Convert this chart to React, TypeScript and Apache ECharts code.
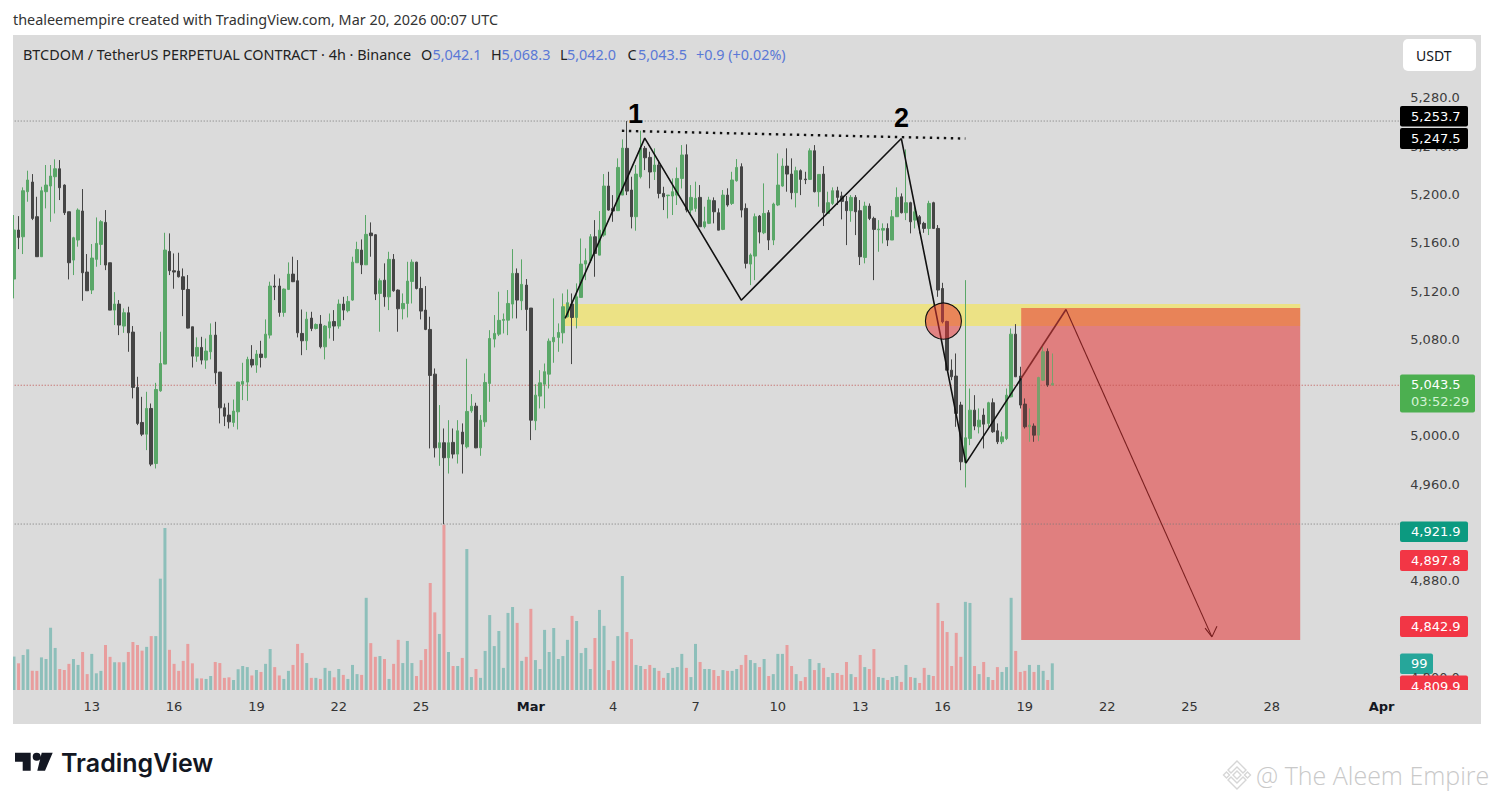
import React, { useEffect, useRef } from "react";
import * as echarts from "echarts";

// open, close, low, high of each 4h candle
const candles: number[][] = [
[5129.9,5170.5,5113.9,5182.9],[5170.5,5164.4,5154.7,5182.0],[5164.9,5203.0,5150.6,5205.8],[5202.2,5211.9,5193.9,5219.6],
[5210.2,5180.1,5178.7,5216.8],[5181.5,5148.4,5148.4,5198.0],[5148.4,5203.0,5148.4,5206.3],[5202.2,5207.7,5188.4,5224.3],
[5206.9,5215.2,5177.3,5224.3],[5214.6,5221.2,5184.2,5229.0],[5221.2,5205.5,5195.3,5228.4],[5207.7,5184.8,5182.9,5208.3],
[5185.6,5143.4,5129.6,5185.6],[5145.6,5164.1,5133.2,5164.9],[5162.2,5187.0,5156.7,5188.4],[5186.2,5135.1,5111.9,5204.4],
[5135.7,5120.2,5120.2,5150.6],[5120.8,5147.3,5117.5,5158.9],[5146.2,5159.4,5140.1,5180.9],[5158.6,5177.4,5141.5,5178.7],
[5176.8,5141.5,5137.3,5187.0],[5143.4,5104.2,5104.2,5143.4],[5104.2,5109.2,5091.8,5119.1],[5109.2,5091.8,5083.5,5112.5],
[5091.0,5102.0,5085.4,5105.6],[5102.0,5085.4,5069.7,5107.0],[5086.0,5040.2,5031.1,5091.0],[5040.2,5010.4,5009.0,5049.0],
[5011.2,5001.5,4999.9,5032.4],[5001.5,5022.8,4988.3,5036.6],[5022.8,4976.7,4975.0,5026.9],[4977.2,5038.5,4973.1,5044.0],
[5037.4,5060.0,5036.6,5086.3],[5059.5,5153.9,5059.5,5168.2],[5152.8,5136.8,5133.2,5167.7],[5136.8,5135.7,5121.9,5151.1],
[5136.5,5131.8,5131.2,5151.7],[5131.8,5121.3,5099.2,5138.7],[5121.3,5089.3,5089.0,5133.2],[5090.4,5066.1,5056.7,5090.4],
[5066.1,5073.3,5061.4,5081.6],[5073.3,5062.8,5059.2,5082.1],[5062.8,5070.3,5055.6,5080.7],[5069.7,5083.5,5063.4,5093.2],
[5083.5,5052.3,5042.9,5094.5],[5052.9,5023.3,5010.4,5052.9],[5023.3,5016.4,5008.2,5026.9],[5017.3,5011.7,5006.2,5027.5],
[5011.2,5020.6,5007.6,5030.2],[5020.0,5044.6,5005.4,5044.9],[5042.9,5045.1,5029.7,5060.6],[5044.6,5063.4,5029.1,5065.6],
[5063.4,5058.7,5056.7,5075.2],[5058.7,5067.8,5052.3,5071.1],[5067.8,5065.0,5056.7,5078.8],[5065.0,5084.3,5064.2,5096.5],
[5083.5,5124.1,5080.7,5127.7],[5124.1,5123.3,5112.5,5133.7],[5124.1,5102.3,5098.7,5130.4],[5102.3,5121.6,5098.7,5122.1],
[5121.3,5134.0,5120.8,5143.7],[5134.0,5127.7,5127.4,5148.4],[5128.5,5085.4,5081.6,5145.6],[5084.9,5078.8,5066.9,5104.7],
[5078.8,5096.7,5071.1,5102.8],[5097.6,5089.0,5086.8,5102.8],[5089.0,5092.3,5088.2,5093.2],[5092.6,5073.8,5072.5,5100.1],
[5073.8,5091.0,5063.4,5091.8],[5089.6,5094.5,5080.7,5101.4],[5094.8,5091.0,5078.8,5104.2],[5091.0,5109.2,5088.8,5113.0],
[5109.2,5104.2,5095.9,5115.2],[5103.7,5111.4,5102.3,5115.8],[5112.5,5143.9,5111.9,5148.4],[5143.4,5154.4,5143.4,5160.8],
[5153.9,5141.7,5134.0,5162.7],[5141.7,5166.9,5141.5,5182.9],[5168.0,5165.8,5148.4,5176.8],[5166.6,5117.5,5112.5,5167.1],
[5118.0,5128.5,5086.3,5130.4],[5129.0,5115.2,5107.0,5142.9],[5115.2,5146.2,5104.2,5152.5],[5146.2,5120.2,5119.4,5150.6],
[5120.8,5105.3,5086.3,5121.3],[5105.3,5109.7,5096.5,5118.0],[5109.7,5128.2,5098.1,5144.2],[5127.9,5143.9,5109.7,5146.2],
[5143.9,5122.1,5121.3,5144.2],[5122.1,5103.4,5096.5,5131.8],[5104.2,5088.2,5087.6,5124.1],[5088.2,5050.1,4989.7,5098.7],
[5051.2,4990.2,4982.2,5055.9],[4990.2,4994.4,4975.3,5025.6],[4994.4,4982.0,4927.0,5006.2],[4982.0,4994.4,4968.9,5013.1],
[4994.7,4985.0,4981.4,5006.2],[4985.0,5004.3,4977.2,5013.1],[5003.2,4993.3,4968.9,5010.4],[4991.0,5020.3,4989.7,5063.9],
[5020.8,5024.7,5019.2,5034.7],[5024.7,4990.2,4989.9,5027.5],[4990.2,5013.1,4983.6,5017.3],[5011.7,5044.3,5007.6,5051.8],
[5043.5,5080.7,5028.3,5087.6],[5080.2,5084.9,5073.3,5100.1],[5084.3,5095.7,5082.7,5119.4],[5095.7,5096.5,5084.9,5101.4],
[5095.9,5109.7,5083.5,5120.8],[5109.2,5134.6,5097.3,5154.7],[5134.6,5112.5,5097.3,5138.7],[5111.9,5125.5,5104.2,5146.2],
[5124.9,5104.7,5087.1,5129.9],[5105.9,5013.1,4996.6,5105.9],[5012.6,5033.8,5004.8,5042.9],[5033.0,5044.0,5022.8,5054.5],
[5042.9,5053.2,5022.8,5060.0],[5051.2,5078.5,5039.3,5080.7],[5078.0,5081.6,5060.6,5113.9],[5081.6,5085.7,5069.7,5093.2],
[5085.4,5107.0,5076.6,5118.0],[5098.7,5110.3,5098.1,5121.3],[5109.2,5098.1,5059.5,5118.0],[5098.1,5115.2,5089.0,5126.3],
[5114.7,5142.3,5114.7,5163.5],[5142.3,5145.1,5129.0,5155.3],[5145.1,5164.9,5143.4,5167.1],[5164.9,5151.1,5131.8,5178.7],
[5149.7,5170.4,5149.7,5186.2],[5166.3,5206.9,5164.9,5216.8],[5206.9,5187.0,5186.5,5218.7],[5188.4,5186.2,5177.3,5199.4],
[5186.5,5222.3,5186.5,5229.8],[5199.4,5238.3,5199.4,5245.5],[5238.1,5202.7,5199.4,5260.7],[5203.6,5181.5,5171.8,5214.6],
[5181.5,5216.8,5169.9,5224.3],[5214.6,5238.3,5213.2,5252.7],[5238.1,5230.3,5220.1,5240.0],[5230.6,5218.5,5205.0,5235.3],
[5218.8,5224.3,5211.9,5238.1],[5224.3,5200.8,5196.7,5228.4],[5200.8,5198.0,5187.0,5206.3],[5198.9,5199.4,5180.1,5199.4],
[5198.6,5202.2,5182.9,5213.2],[5199.4,5213.2,5191.2,5222.3],[5213.2,5232.6,5204.9,5240.8],[5232.8,5187.0,5185.1,5241.4],
[5187.0,5197.5,5184.2,5207.7],[5188.4,5196.7,5185.6,5210.5],[5197.5,5173.2,5173.2,5207.7],[5173.2,5177.3,5171.8,5189.8],
[5176.0,5195.3,5175.4,5198.0],[5194.8,5185.6,5176.0,5197.5],[5184.8,5170.4,5170.4,5188.4],[5171.0,5199.4,5170.4,5203.6],
[5199.4,5191.2,5189.8,5205.0],[5192.5,5211.9,5191.2,5218.7],[5211.3,5222.3,5210.5,5229.2],[5222.9,5187.0,5180.9,5225.7],
[5188.4,5142.9,5138.7,5192.5],[5142.3,5149.8,5124.9,5151.1],[5148.9,5181.5,5129.0,5184.2],[5182.0,5168.8,5159.4,5182.9],
[5168.2,5184.2,5167.1,5209.1],[5184.8,5162.2,5153.9,5187.0],[5162.2,5192.0,5158.0,5193.1],[5191.2,5207.7,5190.3,5233.9],
[5206.9,5223.4,5206.3,5229.8],[5223.4,5216.8,5202.2,5238.1],[5216.8,5201.4,5195.9,5229.8],[5201.4,5219.6,5189.2,5222.9],
[5219.6,5212.4,5199.4,5220.7],[5212.7,5212.1,5208.5,5218.7],[5212.4,5236.1,5211.9,5238.1],[5236.1,5202.2,5201.6,5240.8],
[5202.2,5216.5,5189.8,5216.5],[5216.8,5184.8,5173.8,5223.4],[5184.2,5193.1,5184.2,5202.2],[5192.5,5203.0,5191.2,5205.8],
[5203.0,5197.5,5191.2,5206.3],[5198.6,5194.2,5179.3,5202.2],[5194.2,5186.5,5158.0,5198.6],[5186.5,5197.5,5177.3,5199.4],
[5197.5,5185.6,5166.3,5199.4],[5186.5,5148.4,5141.5,5195.3],[5147.8,5190.3,5142.9,5193.9],[5190.3,5180.1,5178.7,5192.5],
[5180.1,5171.0,5129.0,5181.5],[5170.7,5171.3,5152.5,5178.7],[5170.4,5171.8,5159.4,5176.0],[5171.8,5162.2,5157.2,5176.0],
[5162.2,5181.5,5162.2,5187.0],[5181.5,5197.5,5181.5,5205.8],[5198.0,5184.8,5184.2,5200.8],[5184.8,5193.1,5178.7,5237.2],
[5193.1,5177.3,5167.7,5193.9],[5178.7,5185.6,5171.8,5192.5],[5181.5,5175.4,5167.7,5182.9],[5176.0,5171.8,5168.2,5177.3],
[5171.8,5192.5,5166.3,5194.7],[5193.1,5171.8,5171.3,5193.9],[5171.8,5120.8,5115.2,5174.6],[5122.1,5094.5,5093.2,5126.8],
[5094.8,5054.5,5054.5,5095.4],[5054.5,5049.0,5046.2,5063.4],[5049.6,5018.7,5007.6,5068.3],[5025.6,4978.6,4971.7,5028.3],
[4978.1,4998.5,4957.4,5129.0],[4998.0,5021.4,4992.4,5039.3],[5021.4,5008.2,5004.8,5033.8],[5007.6,5013.1,5002.1,5022.8],
[5017.3,5009.8,4989.7,5022.8],[5010.4,5027.5,5007.6,5028.3],[5027.5,5003.5,5002.6,5031.1],[5004.3,4995.2,4993.3,5010.4],
[4995.2,4999.3,4993.3,5003.5],[4997.9,5033.8,4996.6,5039.3],[5032.4,5084.3,5031.9,5089.0],[5084.3,5049.0,5049.0,5092.6],
[5049.6,5025.6,5022.8,5057.3],[5026.4,5007.6,5006.2,5031.1],[5007.6,5009.0,4995.2,5022.8],[5008.2,5000.7,4995.2,5010.4],
[5000.7,5048.4,4995.7,5049.0],[5046.2,5069.7,5045.7,5073.8],[5070.0,5042.1,5040.7,5072.5],[5042.1,5043.5,5042.0,5068.3],
];

const volumes: number[] = [
124,99,130,151,71,71,121,115,231,156,78,74,97,115,93,141,59,134,62,71,167,123,103,103,103,141,178,167,146,160,
200,200,413,601,149,97,71,108,171,99,43,43,41,52,104,100,45,47,37,77,89,85,54,74,67,97,152,85,54,41,
71,93,171,137,100,45,45,41,82,71,47,78,56,41,93,59,56,342,174,123,126,115,41,97,186,100,182,100,52,111,
152,397,288,208,613,141,89,89,119,523,48,78,45,145,278,163,219,82,286,308,249,108,123,301,111,78,223,141,230,115,
126,186,275,256,137,156,78,193,297,238,74,108,200,423,215,189,93,89,78,93,82,71,45,63,82,85,134,82,48,171,
104,78,78,74,52,74,71,71,78,93,130,111,100,85,115,52,59,134,134,167,89,59,33,48,115,74,100,82,48,63,
63,56,104,59,48,130,85,78,152,48,45,37,48,52,30,93,48,45,26,82,56,52,323,256,215,89,212,123,327,323,
89,59,104,48,37,85,67,85,342,145,67,71,93,67,93,71,37,99,
];

// 304 bars of 4 hours; x tick labels, keyed by bar index
const barCount = 304;
const categories = Array.from({ length: barCount }, (_, i) => `bar ${i}`);
const tickIndex = [17, 35, 53, 71, 89, 113, 131, 149, 167, 185, 203, 221, 239, 257, 275, 299];
const tickLabels = ["13", "16", "19", "22", "25", "Mar", "4", "7", "10", "13", "16", "19", "22", "25", "28", "Apr"];

// drawing tools, as [bar index, price]
const zigzag = [[120.5, 5097.3], [137.9, 5246.6], [159.0, 5112.4], [194.0, 5246.2], [208.1, 4977.5], [220.2, 5047.8]];
const zigzagOverZone = [[220.2, 5047.8], [230.0, 5104.7]];
const arrowLine = [[230.0, 5104.7], [261.9, 4833.7]];
const arrowHead = [[260.4, 4841.0], [261.9, 4833.7], [263.0, 4842.5]];
const topDots = [[132.9, 5252.6], [208.0, 5246.2]];
const highLine = 5260.7;
const lastLine = 5042.0;
const lowLine = 4927.1;
const yellowZone = [120.0, 281.2, 5109.2, 5091.0];
const redZone = [220.2, 281.2, 5105.9, 4831.1];
const circleAt = [203.2, 5095.1];
const firstBarInRedZone = 221;

const creditText = "thealeemempire created with TradingView.com, Mar 20, 2026 00:07 UTC";
const titleText = "BTCDOM / TetherUS PERPETUAL CONTRACT · 4h · Binance";
const ohlcLetters = ["O", "H", "L", "C"];
const ohlcValues = ["5,042.1", "5,068.3", "5,042.0", "5,043.5"];
const changeText = "+0.9 (+0.02%)";

echarts.graphic.registerShape("tvLogo", echarts.graphic.extendPath(
  "M15 752.7 H30.7 V770.7 H22.7 V761.7 H15 Z M40.7 756.7 A4 4 0 1 1 32.7 756.7 A4 4 0 1 1 40.7 756.7 Z M41.7 752.7 H52.7 L45 770.7 H37.3 Z", {}));
echarts.graphic.registerShape("bnbMark", echarts.graphic.extendPath(
  "M-9 -5 L0 -14 L9 -5 L6 -2 L0 -8 L-6 -2 Z M-9 5 L0 14 L9 5 L6 2 L0 8 L-6 2 Z M0 -4 L4 0 L0 4 L-4 0 Z M-10.5 -3 L-7.5 0 L-10.5 3 L-13.5 0 Z M10.5 -3 L13.5 0 L10.5 3 L7.5 0 Z", {}));

const UI_FONT = '"Noto Sans"';
const AXIS_FONT = '"DejaVu Sans"';
const HEAD_SIZE = "14.4px";

function txt(text: string, x: number, y: number, fill: string, font: string, extra: any = {}) {
  return { type: "text", z: 30, silent: true, style: { text, x, y, fill, font, textVerticalAlign: "middle", ...extra } };
}
function tag(text: string, top: number, h: number, bg: string, fill = "#ffffff", w = 68, z = 20) {
  return [
    { type: "rect", z, silent: true, shape: { x: 1400, y: top, width: w, height: h, r: 2 }, style: { fill: bg } },
    { type: "text", z: z + 0.1, silent: true, style: { text, x: 1411, y: top + h / 2, fill, font: `13px ${AXIS_FONT}`, textVerticalAlign: "middle" } },
  ];
}

const rectItem = (_: any, api: any) => {
  const a = api.coord([api.value(0), api.value(2)]);
  const b = api.coord([api.value(1), api.value(3)]);
  return { type: "rect", shape: { x: a[0], y: a[1], width: b[0] - a[0], height: b[1] - a[1] }, style: api.style() };
};

export default function App() {
  const ref = useRef<HTMLDivElement>(null);
  useEffect(() => {
    const chart = echarts.init(ref.current!, null, { renderer: "svg" });
    const headerPieces: any[] = [];
    const letterX = [421, 491, 560, 627.5];
    const valueX = [432.5, 501.5, 567, 638];
    ohlcLetters.forEach((l, i) => {
      headerPieces.push(txt(l, letterX[i], 54, "#222222", `${HEAD_SIZE} ${UI_FONT}`));
      headerPieces.push(txt(ohlcValues[i], valueX[i], 54, "#5a78d6", `${HEAD_SIZE} ${UI_FONT}`));
    });
    const hline = (p: number, color: string) => ({
      type: "line", xAxisIndex: 1, yAxisIndex: 0, z: 1.9, symbol: "none", silent: true,
      data: [[-0.5, p], [barCount - 0.5, p]],
      lineStyle: { color, width: 1, type: [1, 2] },
    });
    const segment = (pts: number[][], color: string, width: number, z: number, dash?: number[]) => ({
      type: "line", xAxisIndex: 1, yAxisIndex: 0, z, symbol: "none", silent: true, data: pts,
      lineStyle: { color, width, type: dash ?? "solid" },
    });
    chart.setOption({
      animation: false,
      backgroundColor: "#ffffff",
      grid: [
        { left: 11.71, width: 1390.5, top: 49.4, height: 628.2 },
        { left: 11.71, width: 1390.5, top: 490, height: 200 },
      ],
      xAxis: [
        { type: "category", gridIndex: 0, data: categories, show: false },
        { type: "value", gridIndex: 0, min: -0.5, max: barCount - 0.5, show: false },
        {
          type: "category", gridIndex: 1, data: categories,
          axisLine: { show: false }, axisTick: { show: false }, splitLine: { show: false },
          axisLabel: {
            margin: 10, color: "#333333", fontFamily: AXIS_FONT, fontSize: 13,
            interval: (i: number) => tickIndex.includes(i),
            formatter: (_: string, i: number) => {
              const k = tickIndex.indexOf(i);
              const s = k < 0 ? "" : tickLabels[k];
              return s === "Mar" || s === "Apr" ? `{b|${s}}` : s;
            },
            rich: { b: { fontWeight: "bold", color: "#131722", fontFamily: AXIS_FONT, fontSize: 13 } },
          },
        },
      ],
      yAxis: [
        {
          type: "value", gridIndex: 0, position: "right", min: 4800, max: 5320, interval: 40,
          axisLine: { show: false }, axisTick: { show: false }, splitLine: { show: false },
          axisLabel: {
            margin: 8, color: "#3d3d3d", fontFamily: AXIS_FONT, fontSize: 13,
            formatter: (v: number) => (v >= 5320 ? "" : v.toLocaleString("en-US", { minimumFractionDigits: 1 })),
          },
        },
        { type: "value", gridIndex: 1, min: 0, max: 742, show: false },
      ],
      series: [
        {
          type: "custom", xAxisIndex: 1, yAxisIndex: 0, z: 1.5, silent: true, clip: false,
          itemStyle: { color: "#ece285" }, data: [yellowZone], renderItem: rectItem,
        },
        {
          type: "custom", xAxisIndex: 1, yAxisIndex: 0, z: 1.8, silent: true, clip: false,
          itemStyle: { color: "rgba(230,50,50,0.54)" }, data: [redZone], renderItem: rectItem,
        },
        hline(highLine, "#777777"),
        hline(lastLine, "#c0504d"),
        hline(lowLine, "#777777"),
        {
          type: "bar", xAxisIndex: 2, yAxisIndex: 1, barWidth: 3, z: 1.6, silent: true,
          data: volumes.map((v, i) => ({
            value: v,
            itemStyle: { color: candles[i][1] >= candles[i][0] ? "#8dbfba" : "#e89d9d" },
          })),
        },
        {
          type: "candlestick", xAxisIndex: 0, yAxisIndex: 0, z: 2, silent: true, barWidth: 3,
          data: candles.map((c, i) => {
            if (i < firstBarInRedZone) return c;
            const col = c[1] >= c[0] ? "#7a9f6c" : "#5a3d3d";
            return { value: c, itemStyle: { color: col, color0: col, borderColor: col, borderColor0: col } };
          }),
          itemStyle: { color: "#5aa768", color0: "#454545", borderColor: "#5aa768", borderColor0: "#454545", borderWidth: 1 },
        },
        segment(zigzag, "#111111", 1.6, 3),
        segment(zigzagOverZone, "#862a2a", 1.6, 3),
        segment(arrowLine, "#7a2020", 1.1, 3),
        segment(arrowHead, "#7a2020", 1.1, 3),
        segment(topDots, "#111111", 2.4, 3, [2.4, 4.6]),
        {
          type: "custom", xAxisIndex: 1, yAxisIndex: 0, z: 5, silent: true, clip: false,
          data: [circleAt],
          renderItem: (_: any, api: any) => {
            const c = api.coord([api.value(0), api.value(1)]);
            return {
              type: "circle", shape: { cx: c[0], cy: c[1], r: 18 },
              style: { fill: "rgba(230,50,50,0.52)", stroke: "#111111", lineWidth: 1.1 },
            };
          },
        },
      ],
      graphic: {
        elements: [
          { type: "rect", z: -1, silent: true, shape: { x: 13, y: 35, width: 1468, height: 689 }, style: { fill: "#dbdbdb" } },
          { type: "rect", z: 10, silent: true, shape: { x: 0, y: 35, width: 13, height: 689 }, style: { fill: "#ffffff" } },
          ...tag("99", 653.5, 20.5, "#26a69a", "#ffffff", 33, -0.5),
          ...tag("5,253.7", 106, 20.5, "#000000"),
          ...tag("5,247.5", 128, 21, "#000000"),
          { type: "rect", z: 20, silent: true, shape: { x: 1400, y: 374.5, width: 75, height: 38, r: 2 }, style: { fill: "#4caf50" } },
          txt("5,043.5", 1411, 384.5, "#ffffff", `13px ${AXIS_FONT}`),
          txt("03:52:29", 1411, 401, "#d5f3d6", `13px ${AXIS_FONT}`),
          ...tag("4,921.9", 521.5, 20.5, "#0c9a80"),
          ...tag("4,897.8", 550, 21, "#f23645"),
          ...tag("4,842.9", 616, 21, "#f23645"),
          ...tag("4,809.9", 675.5, 21, "#f23645"),
          { type: "rect", z: 25, silent: true, shape: { x: 1400, y: 690, width: 81, height: 34 }, style: { fill: "#dbdbdb" } },
          { type: "rect", z: 20, silent: true, shape: { x: 1403, y: 39, width: 73, height: 32, r: 5 }, style: { fill: "#ffffff" } },
          txt("USDT", 1416, 55, "#131722", `14px ${UI_FONT}`),
          txt(creditText, 13, 19, "#333333", `${HEAD_SIZE} ${UI_FONT}`),
          txt(titleText, 23, 54, "#222222", `${HEAD_SIZE} ${UI_FONT}`),
          ...headerPieces,
          txt(changeText, 696, 54, "#5a78d6", `${HEAD_SIZE} ${UI_FONT}`),
          txt("1", 628, 114, "#000000", 'bold 27px "Liberation Sans"'),
          txt("2", 894, 118, "#000000", 'bold 27px "Liberation Sans"'),
          { type: "tvLogo", z: 30, silent: true, style: { fill: "#131722" } },
          txt("TradingView", 61, 763, "#131722", '600 25px "Inter"'),
          { type: "bnbMark", z: 30, silent: true, x: 1237, y: 775, style: { fill: "none", stroke: "#d6d6d6", lineWidth: 1.4 } },
          txt("@ The Aleem Empire", 1256, 775, "#c9c9c9", '300 25px "Open Sans"'),
        ],
      },
    });
    return () => chart.dispose();
  }, []);
  return <div ref={ref} style={{ position: "fixed", left: 0, top: 0, width: 1494, height: 800 }} />;
}
